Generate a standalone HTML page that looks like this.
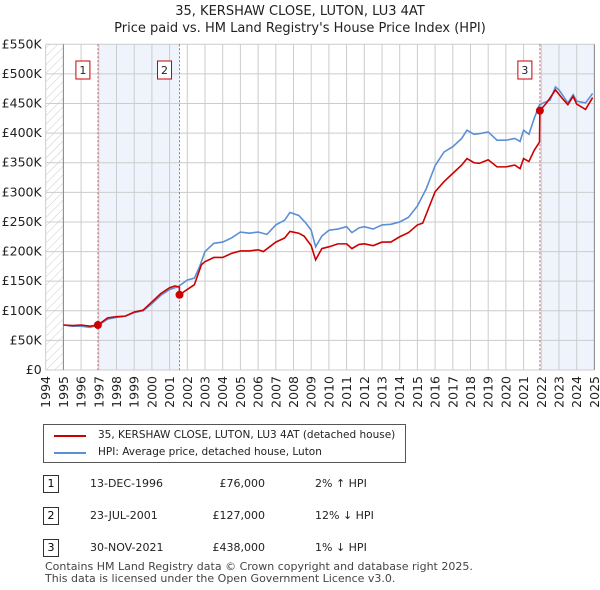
<!DOCTYPE html>
<html><head><meta charset="utf-8"><style>
body{margin:0;background:#fff;font-family:"DejaVu Sans","Liberation Sans",sans-serif;}
#wrap{position:relative;width:600px;height:590px;overflow:hidden;}
.t{position:absolute;font-size:11px;color:#222;white-space:nowrap;}
.lg{font-size:10.5px;}
svg text{font-family:"DejaVu Sans","Liberation Sans",sans-serif;}
</style></head><body><div id="wrap">
<svg id="svg" width="600" height="590" style="position:absolute;left:0;top:0">
<defs><pattern id="hatch" width="6" height="6" patternUnits="userSpaceOnUse" patternTransform="rotate(45)"><line x1="0" y1="0" x2="0" y2="6" stroke="#ccc" stroke-width="1"/></pattern></defs>
<text x="300" y="15" text-anchor="middle" font-size="13" fill="#222">35, KERSHAW CLOSE, LUTON, LU3 4AT</text>
<text x="300" y="32" text-anchor="middle" font-size="13" fill="#222">Price paid vs. HM Land Registry's House Price Index (HPI)</text>
<g id="plot"></g>
</svg>
<div style="position:absolute;left:43px;top:424px;width:361px;height:37px;border:1px solid #555;background:#fff;">
<div style="position:absolute;left:10px;top:10px;width:32px;height:2px;background:#cc0000"></div>
<div class="t lg" style="left:54px;top:4px">35, KERSHAW CLOSE, LUTON, LU3 4AT (detached house)</div>
<div style="position:absolute;left:10px;top:27px;width:32px;height:2px;background:#5b8fd6"></div>
<div class="t lg" style="left:54px;top:21px">HPI: Average price, detached house, Luton</div>
</div>
<div id="tbl"></div>
<div class="t" style="left:45px;top:560px;color:#444">Contains HM Land Registry data © Crown copyright and database right 2025.</div>
<div class="t" style="left:45px;top:572px;color:#444">This data is licensed under the Open Government Licence v3.0.</div>
</div>
<script>
const hpiYears=[1995,1995.5,1996,1996.5,1997,1997.5,1998,1998.5,1999,1999.5,2000,2000.5,2001,2001.5,2002,2002.4,2002.7,2003,2003.5,2004,2004.5,2005,2005.5,2006,2006.5,2007,2007.5,2007.8,2008.3,2008.7,2009,2009.25,2009.6,2010,2010.5,2011,2011.3,2011.7,2012,2012.5,2013,2013.5,2014,2014.5,2015,2015.5,2016,2016.5,2017,2017.5,2017.8,2018.2,2018.5,2019,2019.5,2020,2020.5,2020.8,2021,2021.3,2021.6,2021.9,2022.5,2022.8,2023,2023.5,2023.8,2024,2024.5,2024.9];
const hpiValues=[76,74,74,72,76,86,89,91,97,100,112,126,136,141,152,155,175,200,214,216,223,233,231,233,229,245,253,266,261,248,236,208,226,236,238,242,232,240,242,238,245,246,250,258,277,306,345,368,377,391,405,398,399,402,388,388,391,386,405,398,425,448,456,478,473,451,465,454,451,467];
const ppYears=[1995,1995.5,1996,1996.5,1996.95,1997.5,1998,1998.5,1999,1999.5,2000,2000.5,2001,2001.3,2001.55,2001.56,2002,2002.4,2002.8,2003,2003.5,2004,2004.5,2005,2005.5,2006,2006.3,2007,2007.5,2007.8,2008.3,2008.6,2009,2009.25,2009.6,2010,2010.5,2011,2011.3,2011.7,2012,2012.5,2013,2013.5,2014,2014.5,2015,2015.3,2016,2016.5,2017,2017.5,2017.8,2018.2,2018.5,2019,2019.5,2020,2020.5,2020.8,2021,2021.3,2021.6,2021.9,2021.92,2022.3,2022.8,2023.2,2023.5,2023.8,2024,2024.5,2024.9];
const ppValues=[76,75,76,74,76,88,90,91,98,101,115,129,139,142,140,127,136,144,178,183,190,190,197,201,201,203,200,216,223,234,231,226,210,186,205,208,213,213,205,212,213,210,216,216,225,232,245,248,301,318,332,346,357,350,349,355,343,343,346,340,357,352,371,385,438,451,473,458,448,462,449,440,460];
const sales=[{n:"1",x:1996.95,v:76,date:"13-DEC-1996",price:"£76,000",rel:"2% ↑ HPI"},{n:"2",x:2001.56,v:127,date:"23-JUL-2001",price:"£127,000",rel:"12% ↓ HPI"},{n:"3",x:2021.92,v:438,date:"30-NOV-2021",price:"£438,000",rel:"1% ↓ HPI"}];
const yTicks=[0,50,100,150,200,250,300,350,400,450,500,550];
const xTicks=[1994,1995,1996,1997,1998,1999,2000,2001,2002,2003,2004,2005,2006,2007,2008,2009,2010,2011,2012,2013,2014,2015,2016,2017,2018,2019,2020,2021,2022,2023,2024,2025];
const X0=45.7,X1=594.4,Y0=370,Y1=44.3;
const sx=y=>X0+(y-1994)/31*(X1-X0), sy=v=>Y0-(v/550)*(Y0-Y1);
const NS="http://www.w3.org/2000/svg", g=document.getElementById('plot');
function mk(t,a,p){const e=document.createElementNS(NS,t);for(const k in a)e.setAttribute(k,a[k]);(p||g).appendChild(e);return e;}
let e;
e=mk('rect',{x:sx(1994),y:Y1,width:sx(1995)-sx(1994),height:Y0-Y1,fill:'url(#hatch)'});


e=mk('rect',{x:sx(sales[0].x),y:Y1,width:sx(sales[1].x)-sx(sales[0].x),height:Y0-Y1,fill:'#eef3fc'});


e=mk('rect',{x:sx(sales[2].x),y:Y1,width:X1-sx(sales[2].x),height:Y0-Y1,fill:'#eef3fc'});


yTicks.forEach(v=>{e=mk('line',{x1:X0,x2:X1,y1:sy(v),y2:sy(v),stroke:'#ccc'});


e=mk('text',{x:X0-4,y:sy(v)+4,'text-anchor':'end','font-size':'12.5',fill:'#222'});e.textContent=v?('£'+v+'K'):'£0';

});
xTicks.forEach(y=>{e=mk('line',{x1:sx(y),x2:sx(y),y1:Y1,y2:Y0,stroke:'#ccc'});


e=mk('text',{x:0,y:0,'text-anchor':'end','font-size':'12.5',fill:'#222',transform:`translate(${sx(y)+4.5},${Y0+6}) rotate(-90)`});e.textContent=y;

});
e=mk('line',{x1:sx(1995),x2:sx(1995),y1:Y1,y2:Y0,stroke:'#888'});


e=mk('line',{x1:X1,x2:X1,y1:Y1,y2:Y0,stroke:'#888'});


sales.forEach(s=>{e=mk('line',{x1:sx(s.x),x2:sx(s.x),y1:Y1,y2:Y0,stroke:'#ee5555','stroke-dasharray':'2,2'});

});
e=mk('polyline',{points:hpiYears.map((y,i)=>sx(y)+','+sy(hpiValues[i])).join(' '),fill:'none',stroke:'#5b8fd6','stroke-width':1.6});


e=mk('polyline',{points:ppYears.map((y,i)=>sx(y)+','+sy(ppValues[i])).join(' '),fill:'none',stroke:'#cc0000','stroke-width':1.6});


sales.forEach(s=>{e=mk('circle',{cx:sx(s.x),cy:sy(s.v),r:4,fill:'#cc0000'});


const bx=sx(s.x)-22;
e=mk('rect',{x:bx,y:61,width:14,height:18,fill:'#fff',stroke:'#cc0000'});


e=mk('text',{x:bx+7,y:74,'text-anchor':'middle','font-size':'11',fill:'#222'});e.textContent=s.n;

});
const tbl=document.getElementById('tbl');
sales.forEach((s,i)=>{const top=475+i*32;
const r=document.createElement('div');r.style.cssText=`position:absolute;left:0;top:${top}px;width:600px;height:18px`;


r.innerHTML=`<div style="position:absolute;left:43px;top:0;width:14px;height:16px;border:1px solid #333;font-size:11px;text-align:center;line-height:16px">${s.n}</div><div class="t" style="left:90px;top:2px">${s.date}</div><div class="t" style="left:180px;top:2px;width:85px;text-align:right">${s.price}</div><div class="t" style="left:315px;top:2px">${s.rel}</div>`;
tbl.appendChild(r);});
</script></body></html>
